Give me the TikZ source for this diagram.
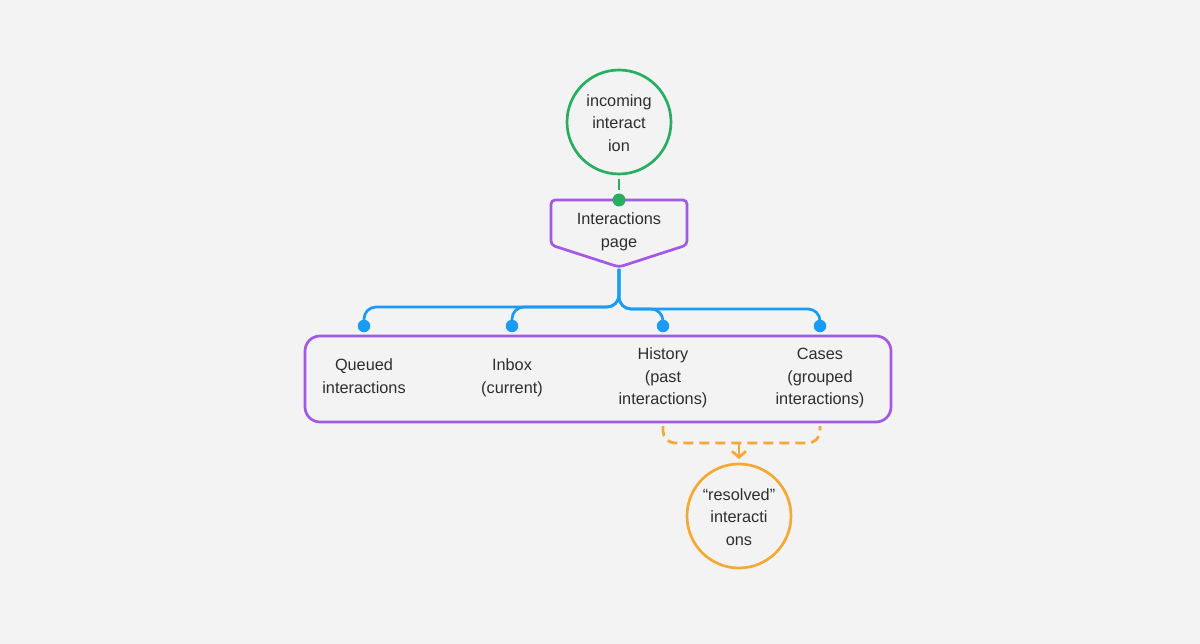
\documentclass[tikz,border=0pt]{standalone}
\usepackage{fontspec}
\setmainfont{Liberation Sans}
\usetikzlibrary{arrows.meta}
\definecolor{bgc}{HTML}{F3F3F3}
\definecolor{gr}{HTML}{27AE60}
\definecolor{pu}{HTML}{A259E6}
\definecolor{bl}{HTML}{1A9BF5}
\definecolor{orc}{HTML}{F5A834}
\definecolor{tx}{HTML}{2E2E2E}
\tikzset{
  lbl/.style={text=tx, align=center, font=\fontsize{16.3}{22.7}\selectfont},
  ring/.style={circle, draw=#1, line width=2.7pt, minimum size=104pt, inner sep=0pt, lbl},
  dotb/.style={circle, fill=bl, minimum size=12.5pt, inner sep=0pt},
  bline/.style={draw=bl, line width=2.7pt, rounded corners=12pt},
  oline/.style={draw=orc, line width=2.7pt, dash pattern=on 10pt off 6pt, rounded corners=12pt},
}
\begin{document}
\begin{tikzpicture}[x=1pt,y=-1pt]
\useasboundingbox[fill=bgc] (0,0) rectangle (1200,644);
% green circle
\node[ring=gr] (inc) at (619,122) {};
\node[lbl] (inct) at (619,123) {incoming\\interact\\ion};
% pentagon
\coordinate (ptl) at (551,200);
\coordinate (ptr) at (687,200);
\coordinate (pbr) at (687,245);
\coordinate (pbl) at (551,245);
\coordinate (ptip) at (619,267);
\draw[pu, line width=2.7pt, rounded corners=4pt, line join=round] (619,200) -- (ptr) -- (pbr) -- (ptip) -- (pbl) -- (ptl) -- cycle;
\node[lbl] (pg) at (619,232) {Interactions\\page};
\node[circle, fill=gr, minimum size=13pt, inner sep=0pt] (gdot) at (619,200) {};
\coordinate (gstart) at (619,179);
\draw[gr, line width=2.7pt, dash pattern=on 11pt off 6pt] (gstart) -- (gdot.north);
% big box
\node[draw=pu, line width=2.7pt, rounded corners=15pt, minimum width=586pt, minimum height=86pt, inner sep=0pt] (box) at (598,379) {};
\node[lbl] (q) at (364,376) {Queued\\interactions};
\node[lbl] (ib) at (512,378) {Inbox\\(current)};
\node[lbl] (hi) at (663,378) {History\\(past\\interactions)};
\node[lbl] (ca) at (820,378) {Cases\\(grouped\\interactions)};
% blue dots
\node[dotb] (d1) at (364,326) {};
\node[dotb] (d2) at (512,326) {};
\node[dotb] (d3) at (663,326) {};
\node[dotb] (d4) at (820,326) {};
\coordinate (bs) at (619,269);
\draw[bline] (bs) -- (619,307) -- (364,307) -- (d1.center);
\draw[bline] (bs) -- (619,307) -- (512,307) -- (d2.center);
\draw[bline] (bs) -- (619,309) -- (663,309) -- (d3.center);
\draw[bline] (bs) -- (619,309) -- (820,309) -- (d4.center);
% orange
\node[ring=orc] (res) at (739,516) {};
\node[lbl] (rest) at (739,517) {``resolved''\\interacti\\ons};
\coordinate (o1) at (663,426);
\coordinate (o2) at (820,426);
\coordinate (om) at (739,443);
\coordinate (oend) at (739,459);
\draw[oline] (o1) -- (663,443) -- (820,443) -- (o2);
\draw[draw=orc, line width=2.7pt, -{Straight Barb[length=6pt,width=14pt]}] (om) -- (oend);
\end{tikzpicture}
\end{document}
